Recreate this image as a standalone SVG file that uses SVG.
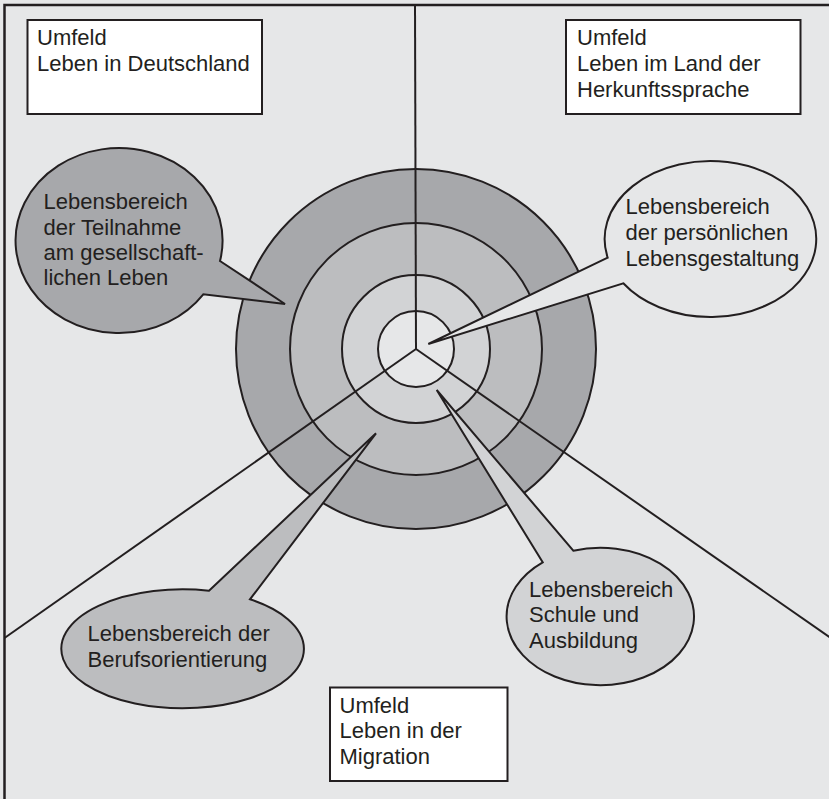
<svg xmlns="http://www.w3.org/2000/svg" width="829" height="799" viewBox="0 0 829 799">
<style>
  .ln { stroke: #231f20; stroke-width: 2; fill: none; stroke-linejoin: miter; }
  .box { fill: #ffffff; stroke: #231f20; stroke-width: 2; }
  .bub { stroke: #231f20; stroke-width: 2; stroke-linejoin: miter; }
  .ring { stroke: #231f20; stroke-width: 2; }
  text { font-family: "Liberation Sans", Arial, sans-serif; font-size: 22px; fill: #231f20; }
</style>
<rect x="0" y="0" width="829" height="799" fill="#e6e7e8"/>
<rect x="4.5" y="5" width="900" height="900" fill="none" stroke="#231f20" stroke-width="2.5"/>

<g id="rings">
  <circle class="ring" cx="416" cy="349" r="180" fill="#a7a8ab"/>
  <circle class="ring" cx="416" cy="349" r="126" fill="#bcbdbf"/>
  <circle class="ring" cx="416" cy="349" r="74" fill="#d2d3d5"/>
  <circle class="ring" cx="416" cy="349" r="38" fill="#e6e7e8"/>
</g>

<g id="connectors">
  <line class="ln" x1="415" y1="5" x2="416" y2="349"/>
  <line class="ln" x1="416" y1="349" x2="4.5" y2="638"/>
  <line class="ln" x1="416" y1="349" x2="835" y2="641"/>
</g>

<g id="box-deutschland">
  <rect class="box" x="27.5" y="20" width="234.5" height="94"/>
  <text><tspan x="37" y="45">Umfeld</tspan><tspan x="37" y="71">Leben in Deutschland</tspan></text>
</g>

<g id="box-herkunft">
  <rect class="box" x="566" y="20" width="234.5" height="94"/>
  <text><tspan x="577" y="45">Umfeld</tspan><tspan x="577" y="71">Leben im Land der</tspan><tspan x="577" y="97">Herkunftssprache</tspan></text>
</g>

<g id="box-migration">
  <rect class="box" x="330" y="687.5" width="177.5" height="93.5"/>
  <text><tspan x="339.5" y="712.5">Umfeld</tspan><tspan x="339.5" y="738">Leben in der</tspan><tspan x="339.5" y="763.5">Migration</tspan></text>
</g>

<g id="bubble-teilnahme">
  <path class="bub" fill="#a7a8ab" d="M220,261 L285,304 L203.3,294.3 A103.5,92.5 0 1 1 220,261 Z"/>
  <text><tspan x="43.5" y="209">Lebensbereich</tspan><tspan x="43.5" y="234.5">der Teilnahme</tspan><tspan x="43.5" y="260">am gesellschaft-</tspan><tspan x="43.5" y="285">lichen Leben</tspan></text>
</g>

<g id="bubble-persoenlich">
  <path class="bub" fill="#e6e7e8" d="M607.7,257.7 L428.3,344 L623.3,283.3 A105.8,78 0 1 0 607.7,257.7 Z"/>
  <text><tspan x="625.5" y="213.5">Lebensbereich</tspan><tspan x="625.5" y="239.5">der persönlichen</tspan><tspan x="625.5" y="265.5">Lebensgestaltung</tspan></text>
</g>

<g id="bubble-beruf">
  <path class="bub" fill="#bcbdbf" d="M209,590.7 L376,433.3 L250,599.3 A121.3,59.5 0 1 1 209,590.7 Z"/>
  <text><tspan x="87.5" y="641">Lebensbereich der</tspan><tspan x="87.5" y="666.5">Berufsorientierung</tspan></text>
</g>

<g id="bubble-schule">
  <path class="bub" fill="#d2d3d5" d="M542.7,562.3 L436.7,390 L573.3,550.7 A93.7,68.7 0 1 1 542.7,562.3 Z"/>
  <text><tspan x="529" y="596.5">Lebensbereich</tspan><tspan x="529" y="622">Schule und</tspan><tspan x="529" y="647.5">Ausbildung</tspan></text>
</g>
</svg>
